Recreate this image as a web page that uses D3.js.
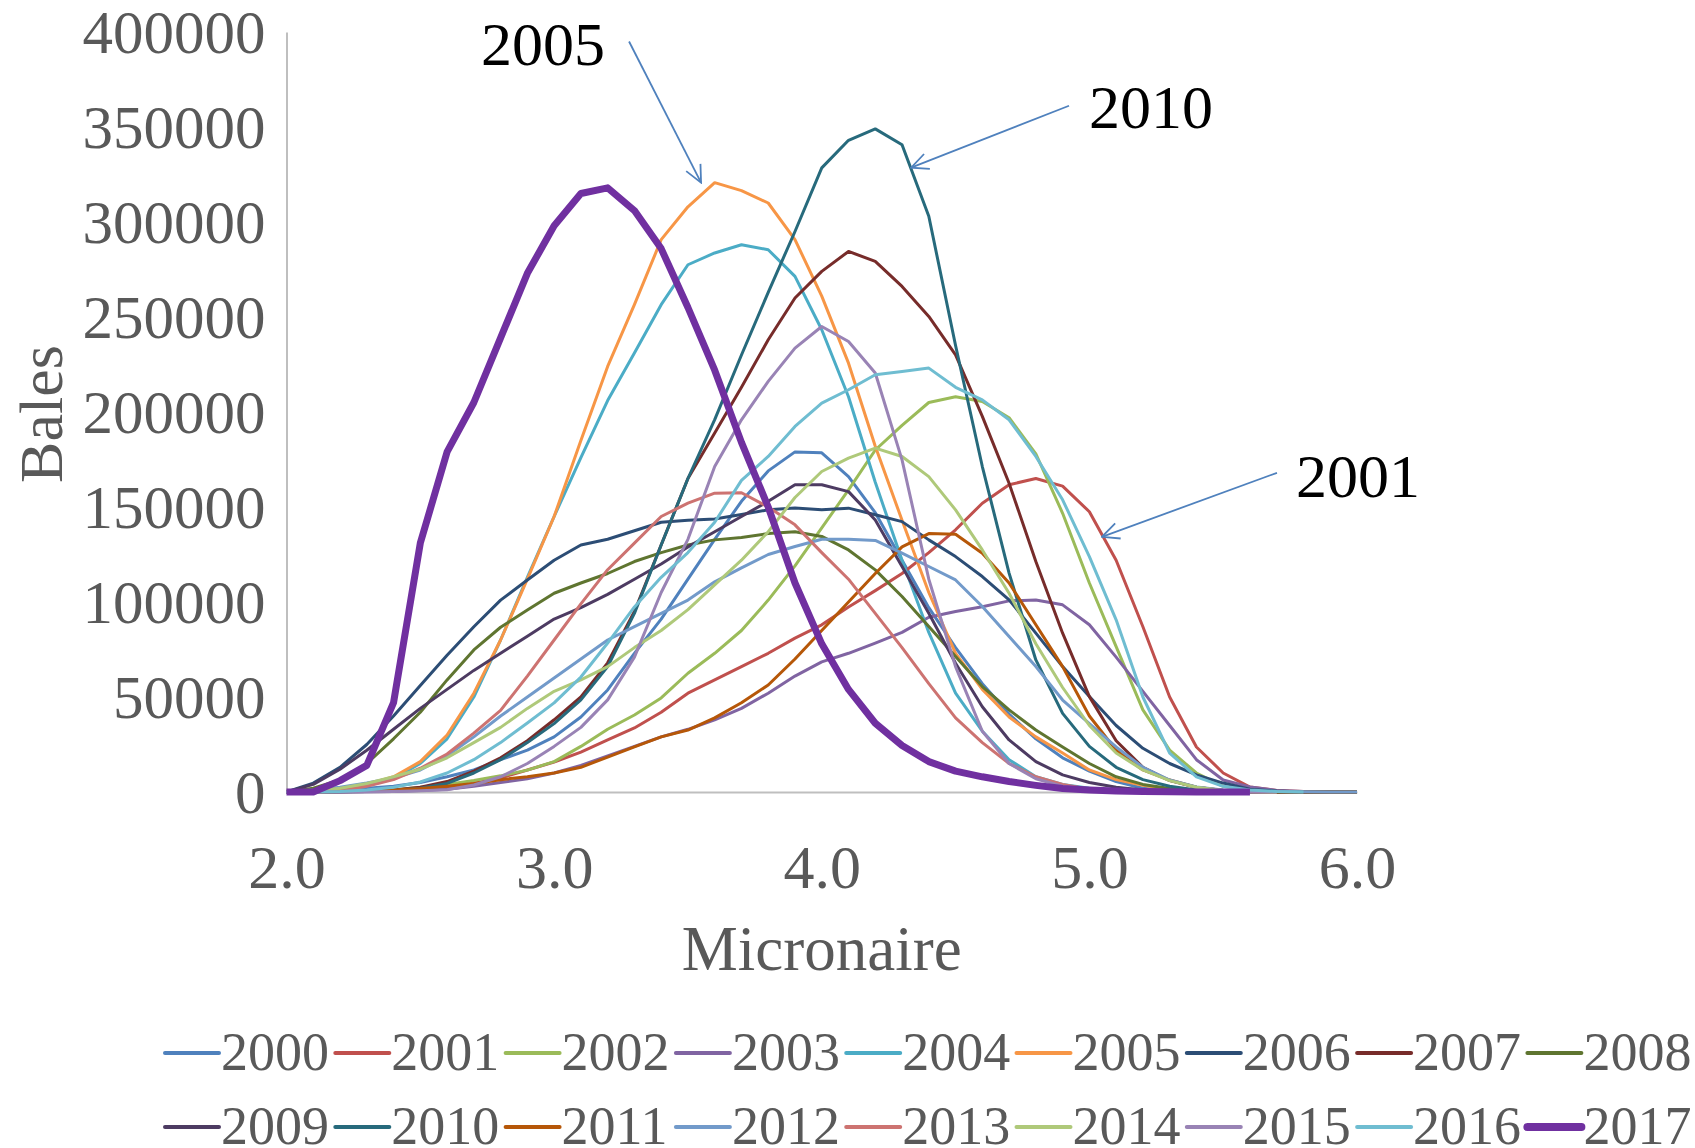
<!DOCTYPE html>
<html>
<head>
<meta charset="utf-8">
<script src="https://cdn.jsdelivr.net/npm/d3@7"></script>
<style>
  body { margin: 0; background: #fff; }
  text { font-family: "Liberation Serif", "Times New Roman", serif; }
</style>
</head>
<body>
<div class="chart"></div>
<script>
// micronaire steps on the x axis
var micronaire = [2.0, 2.1, 2.2, 2.3, 2.4, 2.5, 2.6, 2.7, 2.8, 2.9,
                  3.0, 3.1, 3.2, 3.3, 3.4, 3.5, 3.6, 3.7, 3.8, 3.9,
                  4.0, 4.1, 4.2, 4.3, 4.4, 4.5, 4.6, 4.7, 4.8, 4.9,
                  5.0, 5.1, 5.2, 5.3, 5.4, 5.5, 5.6, 5.7, 5.8, 5.9, 6.0];

var years = ["2000", "2001", "2002", "2003", "2004", "2005", "2006", "2007", "2008",
             "2009", "2010", "2011", "2012", "2013", "2014", "2015", "2016", "2017"];

var colors = ["#4F81BD", "#C0504D", "#9BBB59", "#8064A2", "#4BACC6", "#F79646",
              "#2C4D75", "#772C2A", "#5F7530", "#4D3B62", "#276A7C", "#B65708",
              "#729ACA", "#CD7371", "#AFC97A", "#9983B5", "#6FBDD1", "#7030A0"];

// bales per micronaire step, one list per crop year
var b2000 = [0, 500, 1000, 2000, 3000, 5000, 8000, 11600, 17000, 22000, 29000, 39500, 53700, 73000, 91000, 112000, 133000, 153000, 169000, 179000, 178500, 166000, 147000, 122000, 97000, 76000, 57000, 41000, 28000, 18000, 11000, 5500, 2000, 800, 300, 100, 0, 0, 0, 0, 0];
var b2001 = [0, 0, 100, 200, 500, 1200, 2500, 4500, 7400, 11600, 15800, 21000, 27400, 33700, 42000, 52000, 59000, 66000, 73000, 81000, 88000, 97400, 106000, 115000, 126000, 138000, 152000, 161700, 165000, 161000, 147500, 122000, 87000, 50000, 23700, 10000, 2600, 800, 200, 0, 0];
var b2002 = [0, 0, 200, 500, 1000, 2500, 4000, 6000, 8500, 11500, 16000, 24000, 33000, 40500, 49500, 62500, 73000, 85000, 101000, 119000, 139000, 159000, 180000, 193000, 205000, 208000, 205500, 197000, 178000, 146700, 110000, 76500, 43200, 22000, 10000, 3000, 1000, 300, 0, 0, 0];
var b2003 = [0, 0, 0, 100, 300, 800, 1500, 3000, 5000, 7000, 10000, 14000, 19000, 24000, 29000, 33000, 38000, 44000, 52000, 61000, 68500, 73000, 78400, 84000, 92000, 95000, 97500, 100600, 101000, 98500, 88000, 71000, 53000, 35000, 17000, 6300, 2600, 800, 200, 0, 0];
var b2004 = [0, 500, 1500, 3500, 7000, 15000, 28000, 50000, 80000, 113000, 145000, 176000, 206000, 231000, 256500, 277500, 283700, 288000, 285400, 271400, 243300, 208000, 163000, 122000, 84000, 52000, 32000, 17000, 8000, 4000, 2000, 800, 300, 100, 0, 0, 0, 0, 0, 0, 0];
var b2005 = [0, 500, 1500, 4000, 8000, 16000, 30000, 52000, 80000, 112000, 145000, 185000, 224000, 256500, 290700, 308000, 320700, 316500, 310000, 290700, 261000, 225700, 182000, 143000, 105000, 73000, 54000, 39500, 29000, 20500, 11600, 6500, 3500, 1500, 600, 200, 0, 0, 0, 0, 0];
var b2006 = [0, 4700, 13000, 25000, 40000, 56000, 72000, 87000, 101000, 111600, 122000, 130000, 133000, 137500, 142000, 143000, 143700, 146000, 148500, 149500, 148500, 149400, 145900, 142300, 132700, 123900, 113400, 101100, 83600, 66000, 50200, 35000, 23000, 15000, 9000, 4700, 1500, 500, 0, 0, 0];
var b2007 = [0, 0, 100, 400, 1000, 2500, 5500, 11000, 18000, 27000, 38000, 50000, 68000, 95000, 130000, 165000, 189000, 213000, 238000, 260000, 274000, 284500, 279300, 266100, 250300, 230100, 197700, 162500, 121300, 83600, 50200, 27000, 13000, 6000, 2500, 800, 200, 0, 0, 0, 0];
var b2008 = [0, 2000, 6300, 15000, 28000, 42000, 59000, 74800, 86700, 95800, 104600, 110000, 115000, 121300, 126000, 130000, 132700, 134000, 136000, 137000, 134500, 127400, 116900, 102900, 87100, 71300, 55500, 43200, 32600, 23700, 15000, 8000, 4000, 1800, 700, 200, 0, 0, 0, 0, 0];
var b2009 = [0, 4000, 12000, 22000, 33000, 44000, 54000, 64000, 73000, 82000, 91000, 97000, 104000, 112000, 120000, 129000, 137000, 145000, 153000, 161700, 161700, 158100, 143200, 118700, 94100, 67800, 44900, 27400, 16000, 9000, 5000, 2500, 1000, 300, 0, 0, 0, 0, 0, 0, 0];
var b2010 = [0, 0, 100, 300, 800, 2000, 4500, 10000, 17000, 26000, 36000, 48500, 66000, 94000, 130000, 165000, 196000, 230000, 263000, 295000, 328500, 343000, 349000, 340700, 303000, 235000, 171300, 115200, 69500, 41400, 24000, 13000, 6500, 3000, 1000, 300, 0, 0, 0, 0, 0];
var b2011 = [0, 0, 200, 500, 1000, 1800, 3000, 4500, 6500, 8000, 10000, 13000, 18400, 23700, 29000, 32600, 39000, 47000, 56300, 70000, 85000, 100000, 115000, 129000, 136000, 135700, 125700, 110000, 88000, 66000, 40000, 22000, 11600, 6300, 2500, 800, 200, 0, 0, 0, 0];
var b2012 = [0, 1000, 2500, 4700, 7400, 11600, 19000, 29000, 40000, 50000, 60000, 70000, 80000, 87000, 94000, 101000, 110600, 118000, 125000, 129200, 133000, 133000, 132400, 125700, 118700, 111600, 97600, 81800, 66000, 48400, 36000, 23700, 13000, 6300, 2600, 1000, 400, 200, 100, 0, 0];
var b2013 = [0, 0, 500, 3000, 6500, 12500, 20000, 31000, 43000, 61000, 80000, 99000, 117000, 131000, 145000, 152000, 157300, 157500, 150000, 140600, 126000, 112000, 94000, 76000, 57000, 39000, 26000, 15000, 8000, 4000, 1500, 500, 100, 0, 0, 0, 0, 0];
var b2014 = [0, 500, 2000, 4500, 8000, 12000, 18000, 26000, 34000, 44000, 53000, 59000, 66000, 76000, 85000, 96000, 109000, 122000, 137000, 155000, 168700, 175700, 181000, 176600, 166000, 148500, 127400, 104600, 78000, 55000, 35000, 20500, 11600, 6000, 2500, 800, 200, 0];
var b2015 = [0, 0, 0, 100, 300, 600, 1200, 3700, 8000, 15000, 24000, 34000, 48500, 71000, 105000, 133000, 171300, 195900, 216100, 233600, 245000, 237100, 220500, 174800, 112000, 66000, 32000, 15000, 7000, 3000, 1200, 400, 100, 0, 0, 0, 0, 0];
var b2016 = [0, 0, 300, 1000, 2500, 5300, 10000, 17000, 26000, 36300, 46900, 60500, 78400, 97400, 113000, 126000, 142000, 164000, 176600, 192400, 204700, 211700, 219600, 221300, 223100, 213000, 206400, 195900, 176600, 153800, 123900, 90600, 50000, 20500, 8000, 3000, 1000, 300, 0];
var b2017 = [0, 0, 6000, 14000, 47000, 131000, 179000, 205000, 239000, 273000, 298000, 315000, 318000, 306000, 286000, 255000, 222000, 184000, 150000, 110000, 78000, 54000, 36200, 24500, 16000, 11000, 8000, 5500, 3500, 1800, 1000, 500, 200, 100, 50, 0, 0];

var series = [b2000, b2001, b2002, b2003, b2004, b2005, b2006, b2007, b2008,
              b2009, b2010, b2011, b2012, b2013, b2014, b2015, b2016, b2017];

var xTicks = [2.0, 3.0, 4.0, 5.0, 6.0];
var yTicks = [0, 50000, 100000, 150000, 200000, 250000, 300000, 350000, 400000];

// call-outs: label position, arrow start and arrow tip, in data units
var notes = [
  {text: "2005", tx: 2.958, ty: 382800, anchor: "middle", x1: 3.28, y1: 395000, x2: 3.549, y2: 320700},
  {text: "2010", tx: 4.999, ty: 349700, anchor: "start", x1: 4.924, y1: 361200, x2: 4.334, y2: 328600},
  {text: "2001", tx: 5.772, ty: 155300, anchor: "start", x1: 5.701, y1: 168000, x2: 5.047, y2: 134300}
];

var W = 1695, H = 1148;
var margin = {top: 32, right: 338, bottom: 356, left: 286.5};
var w = W - margin.left - margin.right;
var h = H - margin.top - margin.bottom;

var svg = d3.select(".chart")
    .append("svg")
    .attr("width", W)
    .attr("height", H);

var mainG = svg.append("g")
    .attr("transform", "translate(" + margin.left + "," + margin.top + ")");

var x = d3.scaleLinear().domain([2, 6]).range([0, w]);
var y = d3.scaleLinear().domain([0, 400000]).range([h, 0]);

var grey = "#595959";

// axes
var xAxis = d3.axisBottom(x).tickValues(xTicks).tickSize(0).tickPadding(52)
    .tickFormat(function(d) { return d.toFixed(1); });
var yAxis = d3.axisLeft(y).tickValues(yTicks).tickSize(0).tickPadding(21)
    .tickFormat(function(d) { return d; });

var gx = mainG.append("g")
    .attr("class", "x axis")
    .attr("transform", "translate(0," + h + ")")
    .call(xAxis);
var gy = mainG.append("g")
    .attr("class", "y axis")
    .call(yAxis);

[gx, gy].forEach(function(g) {
  g.select(".domain").attr("stroke", "#BFBFBF").attr("stroke-width", 2);
  g.selectAll("text")
    .attr("fill", grey)
    .style("font-family", "'Liberation Serif', 'Times New Roman', serif");
});
gx.selectAll("text").style("font-size", "62px");
gy.selectAll("text").style("font-size", "61px").attr("dy", "0.34em");

// axis titles
mainG.append("text")
    .attr("x", w / 2)
    .attr("y", h + 178)
    .attr("text-anchor", "middle")
    .attr("fill", grey)
    .style("font-size", "63px")
    .text("Micronaire");

mainG.append("text")
    .attr("transform", "translate(" + (62 - margin.left) + "," + (h / 2 + 2) + ") rotate(-90)")
    .attr("text-anchor", "middle")
    .attr("fill", grey)
    .style("font-size", "62px")
    .text("Bales");

// one line per year, 2017 drawn last and thicker
var line = d3.line()
    .x(function(d, i) { return x(micronaire[i]); })
    .y(function(d) { return y(d); });

mainG.selectAll(".serie")
    .data(series)
  .enter()
    .append("path")
    .attr("class", "serie")
    .attr("fill", "none")
    .attr("stroke", function(d, i) { return colors[i]; })
    .attr("stroke-width", function(d, i) { return i === 17 ? 7 : 3; })
    .attr("stroke-linejoin", "round")
    .attr("d", line);

// call-outs with open arrow heads
svg.append("defs").append("marker")
    .attr("id", "arrow")
    .attr("viewBox", "0 0 20 20")
    .attr("refX", 19).attr("refY", 10)
    .attr("markerWidth", 20).attr("markerHeight", 20)
    .attr("markerUnits", "userSpaceOnUse")
    .attr("orient", "auto")
  .append("path")
    .attr("d", "M2,2 L19,10 L2,18")
    .attr("fill", "none")
    .attr("stroke", "#4F81BD")
    .attr("stroke-width", 1.8);

var notesG = mainG.selectAll(".note").data(notes).enter().append("g").attr("class", "note");
notesG.append("line")
    .attr("x1", function(d) { return x(d.x1); })
    .attr("y1", function(d) { return y(d.y1); })
    .attr("x2", function(d) { return x(d.x2); })
    .attr("y2", function(d) { return y(d.y2); })
    .attr("stroke", "#4F81BD")
    .attr("stroke-width", 1.8)
    .attr("marker-end", "url(#arrow)");
notesG.append("text")
    .attr("x", function(d) { return x(d.tx); })
    .attr("y", function(d) { return y(d.ty); })
    .attr("text-anchor", function(d) { return d.anchor; })
    .attr("fill", "#000")
    .style("font-size", "62px")
    .text(function(d) { return d.text; });

// legend, two rows of nine
var legend = svg.selectAll(".legend")
    .data(years)
  .enter()
    .append("g")
    .attr("class", "legend")
    .attr("transform", function(d, i) {
      return "translate(" + (165 + (i % 9) * 170.3) + "," + (i < 9 ? 1053 : 1127) + ")";
    });

legend.append("line")
    .attr("x1", 0).attr("x2", 54)
    .attr("stroke", function(d, i) { return colors[i]; })
    .attr("stroke-width", function(d, i) { return i === 17 ? 8 : 4; })
    .attr("stroke-linecap", "round");

legend.append("text")
    .attr("x", 56)
    .attr("y", 17)
    .attr("fill", grey)
    .style("font-size", "54px")
    .text(function(d) { return d; });
</script>
</body>
</html>
